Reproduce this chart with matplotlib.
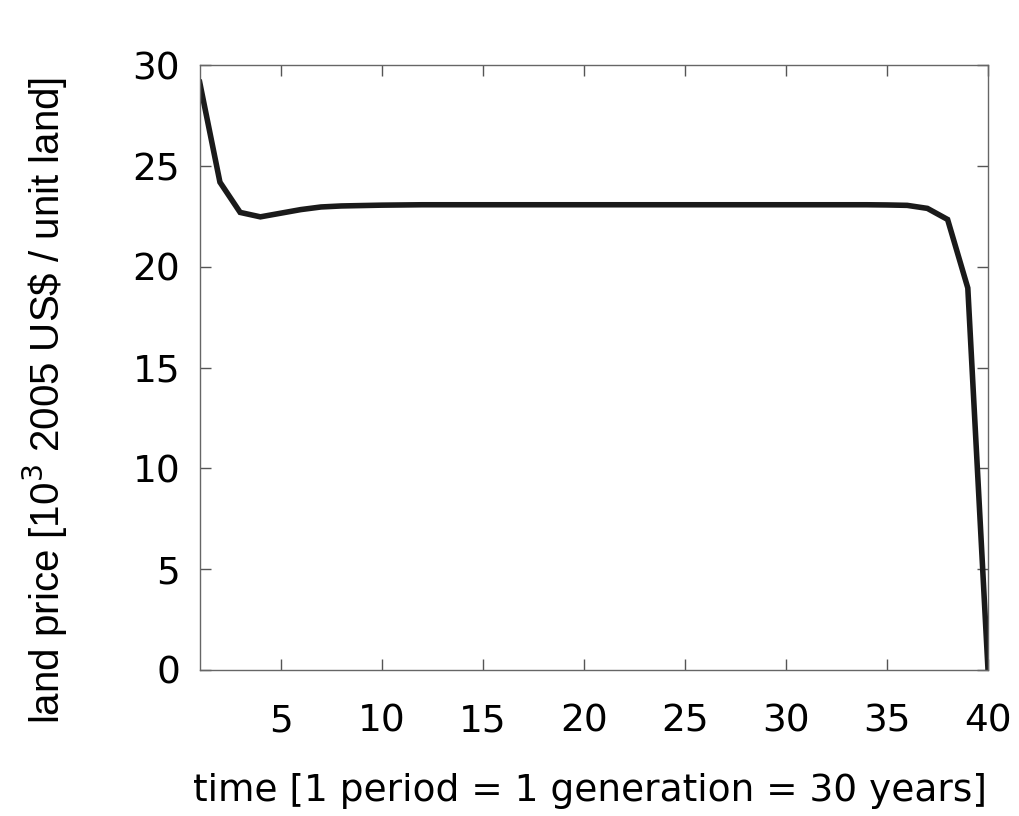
import numpy as np
import matplotlib
matplotlib.use("Agg")
import matplotlib.pyplot as plt

plt.rcParams["font.family"] = ["DejaVu Sans"]

# period index and land price (10^3 2005 US$ per unit land)
periods = list(range(1, 41))
land_price = [29.15, 24.2, 22.7, 22.48, 22.66, 22.84, 22.97, 23.02, 23.04, 23.06,
              23.07, 23.08, 23.08, 23.08, 23.08, 23.08, 23.08, 23.08, 23.08, 23.08,
              23.08, 23.08, 23.08, 23.08, 23.08, 23.08, 23.08, 23.08, 23.08, 23.08,
              23.08, 23.08, 23.08, 23.08, 23.07, 23.05, 22.9, 22.35, 18.95, 0.0]
xticks = [5, 10, 15, 20, 25, 30, 35, 40]
yticks = [0, 5, 10, 15, 20, 25, 30]

fig = plt.figure(figsize=(10.19, 8.16), dpi=100)
ax = fig.add_axes([0.196, 0.179, 0.7736, 0.741])
ax.plot(periods, land_price, color="#1a1a1a", lw=4.0, solid_joinstyle="miter")

ax.set_xlim(1, 40)
ax.set_ylim(0, 30)
ax.set_xticks(xticks)
ax.set_yticks(yticks)
ax.tick_params(direction="in", length=8, width=1, color="#555555",
               top=True, right=True, labelsize=27)
ax.tick_params(axis="x", pad=24)
ax.tick_params(axis="y", pad=14)
for s in ax.spines.values():
    s.set_color("#666666")
    s.set_linewidth(1)

ax.set_xlabel("time [1 period = 1 generation = 30 years]", fontsize=27)
ax.xaxis.set_label_coords(0.495, -0.17)
ax.set_ylabel(r"land price [10$^3$ 2005 US\$ / unit land]", fontsize=29,
              family="Liberation Sans")
ax.yaxis.set_label_coords(-0.165, 0.446)

fig.savefig("out.png", dpi=100)
